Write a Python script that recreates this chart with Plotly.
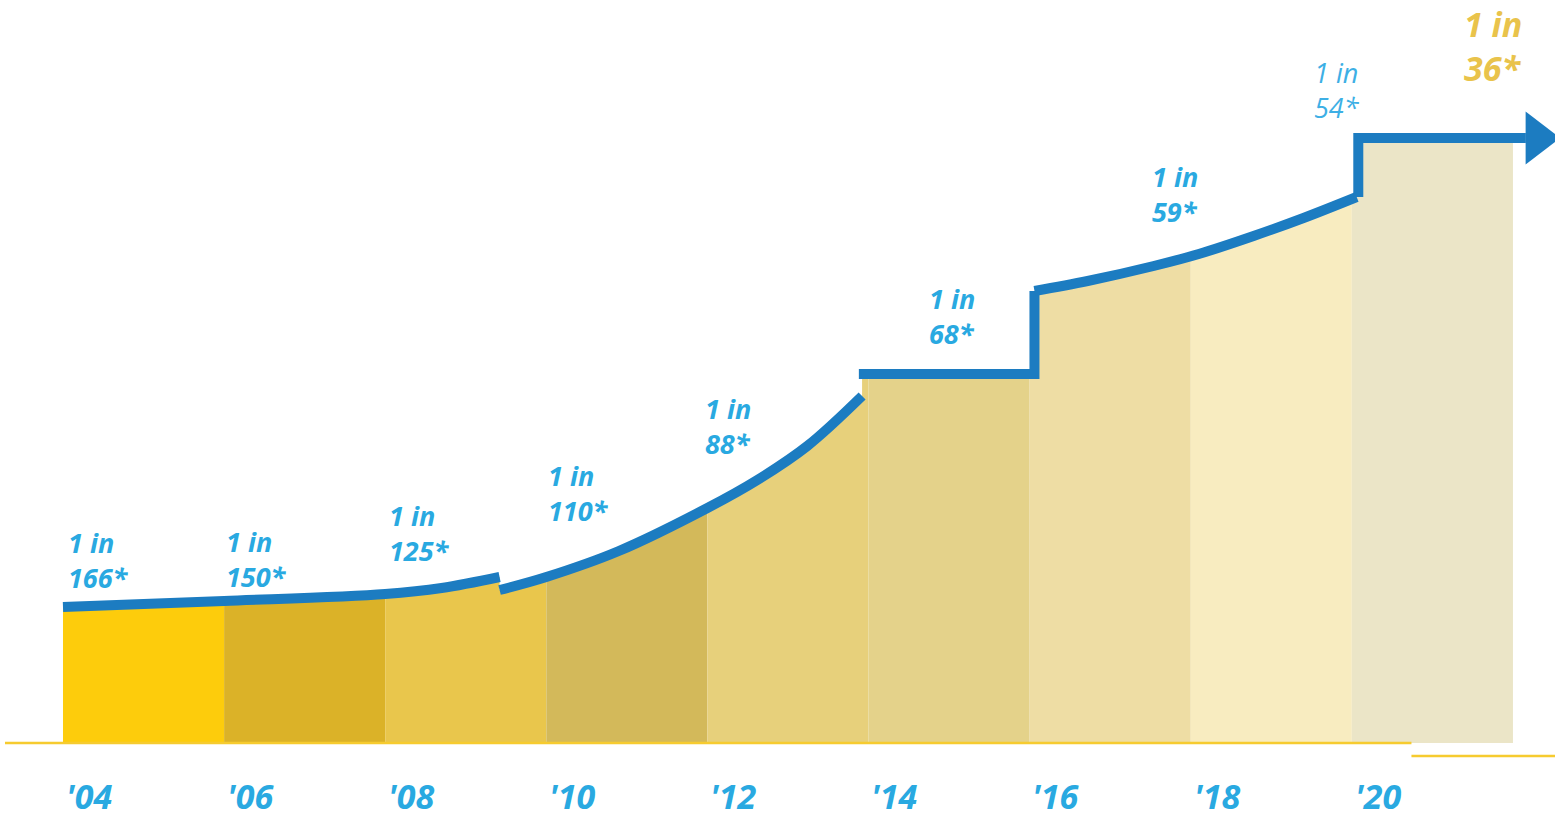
import numpy as np
import plotly.graph_objects as go

# ---------------- data ----------------
years = ["'04", "'06", "'08", "'10", "'12", "'14", "'16", "'18", "'20"]
ratios = [166, 150, 125, 110, 88, 68, 59, 54, 36]

# blue trend line (x: 2-year column units, h: chart height units)
curve_a_x = [0, 1, 2, 2.35, 2.71]
curve_a_h = [136, 142, 149, 155, 166]
curve_b_x = [2.71, 3.0, 3.45, 4.0, 4.31, 4.62, 4.96]
curve_b_h = [153, 166, 192, 235, 263, 297, 347]
step_a_x = [4.94, 6.03, 6.03]
step_a_h = [369, 369, 452]
curve_c_x = [6.03, 6.36, 6.77, 7.05, 7.39, 7.70, 8.03]
curve_c_h = [452, 462, 477, 489, 507, 525, 546]
step_b_x = [8.04, 8.04, 9.08]
step_b_h = [546, 605, 605]

# ---------------- style ----------------
col_colors = ["#FDCC0C", "#DBB228", "#E9C64C", "#D3B95A", "#E7D07B",
              "#E4D28A", "#EEDDA4", "#F8ECC0", "#EBE5C7"]
LINE_BLUE = "#1C7CC1"
LABEL_BLUE = "#29A9E1"
GOLD = "#E9C34B"
BASE_GOLD = "#F6CB2F"
FONT = "Open Sans"

# label placement (layout only)
label_x = [0.02, 1.0, 2.01, 3.0, 3.97, 5.36, 6.75, 7.75, 9.07]
label_h = [183, 184, 210, 250, 317, 427, 549, 653, 697]

fig = go.Figure()

# top profile of the filled area (follows the trend line)
prof_x = curve_a_x + curve_b_x + [curve_b_x[-1]] + step_a_x[1:] + curve_c_x[1:] + step_b_x[1:]
prof_h = curve_a_h + curve_b_h + [step_a_h[0]] + step_a_h[1:] + curve_c_h[1:] + step_b_h[1:]
prof_x = np.array(prof_x, dtype=float)
prof_h = np.array(prof_h, dtype=float)

for i, c in enumerate(col_colors):
    lo, hi = float(i), float(i + 1)
    inner = (prof_x > lo) & (prof_x < hi)
    xs = [lo, lo] + list(prof_x[inner]) + [hi, hi]
    hs = [0, float(np.interp(lo + 1e-6, prof_x, prof_h))] + list(prof_h[inner]) + \
         [float(np.interp(hi - 1e-6, prof_x, prof_h)), 0]
    fig.add_trace(go.Scatter(x=xs, y=hs, mode="lines", fill="toself",
                             fillcolor=c, line=dict(width=0, color=c),
                             hoverinfo="skip"))

# baseline
fig.add_trace(go.Scatter(x=[-0.36, 8.37], y=[0, 0], mode="lines",
                         line=dict(color=BASE_GOLD, width=2.5), hoverinfo="skip"))
fig.add_trace(go.Scatter(x=[8.37, 9.27], y=[-13, -13], mode="lines",
                         line=dict(color=BASE_GOLD, width=2.5), hoverinfo="skip"))

# trend line
for xs, hs, shape in [(curve_a_x, curve_a_h, "spline"),
                      (curve_b_x, curve_b_h, "spline"),
                      (step_a_x, step_a_h, "linear"),
                      (curve_c_x, curve_c_h, "spline"),
                      (step_b_x, step_b_h, "linear")]:
    fig.add_trace(go.Scatter(x=xs, y=hs, mode="lines",
                             line=dict(color=LINE_BLUE, width=10, shape=shape,
                                       smoothing=1.0 if shape == "spline" else None),
                             hoverinfo="skip"))

# arrow head
fig.add_trace(go.Scatter(x=[step_b_x[-1] + 0.07], y=[step_b_h[-1]], mode="markers",
                         marker=dict(symbol="triangle-right", size=46, color=LINE_BLUE,
                                     line=dict(width=0)),
                         hoverinfo="skip"))

annotations = []
for i, (r, lx, lh) in enumerate(zip(ratios, label_x, label_h)):
    if i == len(ratios) - 1:
        annotations.append(dict(x=lx, y=lh, xref="x", yref="y", text=f"1 in<br>{r}*",
                                showarrow=False, xanchor="right", yanchor="middle",
                                align="left",
                                font=dict(family=FONT, size=34, color=GOLD,
                                          weight="bold", style="italic")))
    elif i == len(ratios) - 2:
        annotations.append(dict(x=lx, y=lh, xref="x", yref="y", text=f"1 in<br>{r}*",
                                showarrow=False, xanchor="left", yanchor="middle",
                                align="left",
                                font=dict(family=FONT, size=27, color="#3DAFE5",
                                          weight="normal", style="italic")))
    else:
        annotations.append(dict(x=lx, y=lh, xref="x", yref="y", text=f"1 in<br>{r}*",
                                showarrow=False, xanchor="left", yanchor="middle",
                                align="left",
                                font=dict(family=FONT, size=27, color=LABEL_BLUE,
                                          weight="bold", style="italic")))

for i, yr in enumerate(years):
    annotations.append(dict(x=i + 0.005, y=-53, xref="x", yref="y", text=yr,
                            showarrow=False, xanchor="left", yanchor="middle",
                            font=dict(family=FONT, size=34, color=LABEL_BLUE,
                                      weight="bold", style="italic")))

fig.update_layout(
    width=1555, height=818,
    margin=dict(l=0, r=0, t=0, b=0, pad=0),
    paper_bgcolor="white", plot_bgcolor="white",
    showlegend=False,
    xaxis=dict(range=[-0.391, 9.261], visible=False, fixedrange=True),
    yaxis=dict(range=[-75, 743], visible=False, fixedrange=True),
    annotations=annotations,
)

fig.write_html("out.html", config={"displayModeBar": False},
               post_script="document.body.style.margin='0';")
